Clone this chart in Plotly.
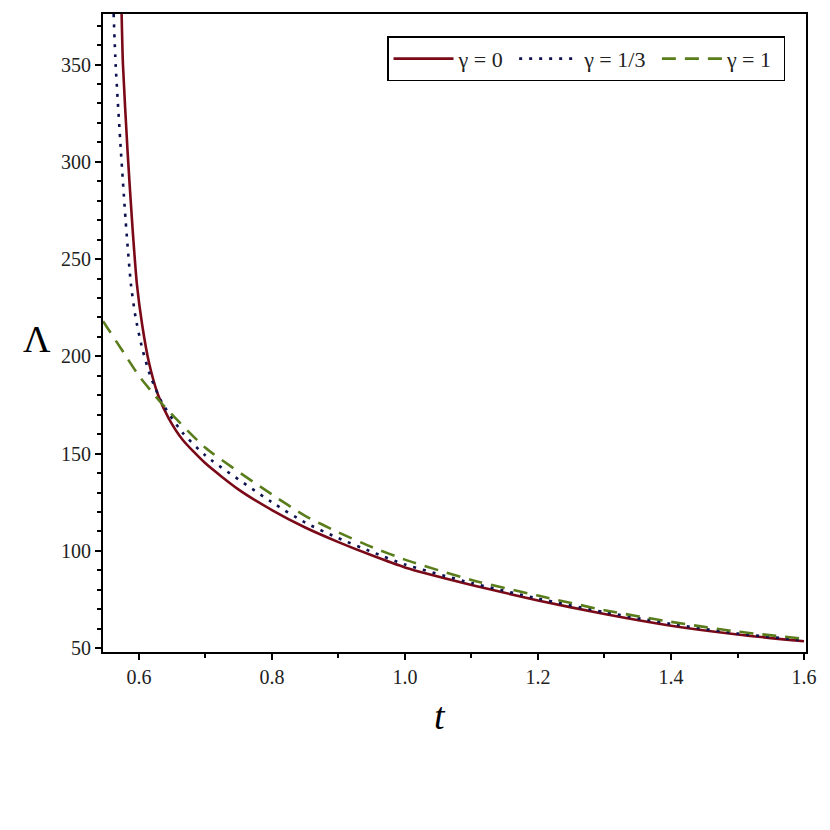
import plotly.graph_objects as go

# gamma = 0 (solid)
t0 = [0.574, 0.576, 0.583, 0.590, 0.597, 0.605, 0.615, 0.629, 0.645, 0.666, 0.70, 0.75, 0.80, 0.85, 0.90,
      0.95, 1.0, 1.1, 1.2, 1.3, 1.4, 1.5, 1.6]
L0 = [376, 350, 305, 268, 237, 216, 197, 180, 168, 157, 145, 131.5, 121, 112, 104.5,
      97.7, 91.5, 82.5, 74.5, 67.5, 61.5, 57, 53.5]

# gamma = 1/3 (dotted)
t13 = [0.562, 0.565, 0.573, 0.580, 0.588, 0.595, 0.605, 0.617, 0.635, 0.665, 0.70, 0.80, 0.85, 0.90,
       0.95, 1.0, 1.1, 1.2, 1.3, 1.4, 1.5, 1.6]
L13 = [376, 350, 305, 270, 237, 220, 204, 190, 176, 161, 149, 125, 114.5, 106.5,
       99.5, 93, 83.5, 75.5, 68.5, 62.5, 57.5, 54]

# gamma = 1 (dashed)
t1 = [0.546, 0.55, 0.575, 0.60, 0.635, 0.70, 0.80, 0.85, 0.90, 0.95, 1.0, 1.1, 1.2, 1.3, 1.4, 1.5, 1.6]
L1 = [218, 216, 203, 190, 175.5, 153, 129, 118, 109.5, 102, 95.5, 85, 77, 69.5, 63.5, 58.5, 54.8]

x_ticks = [0.6, 0.8, 1.0, 1.2, 1.4, 1.6]
x_ticklabels = ["0.6", "0.8", "1.0", "1.2", "1.4", "1.6"]
y_ticks = [50, 100, 150, 200, 250, 300, 350]
names = ["γ = 0", "γ = 1/3", "γ = 1"]

serif = "Liberation Serif, Times New Roman, serif"

fig = go.Figure()
fig.add_trace(go.Scatter(x=t0, y=L0, mode="lines", name=names[0] + "&nbsp;",
                         line=dict(color="#7a0a18", width=2.6, shape="spline", smoothing=0.6)))
fig.add_trace(go.Scatter(x=t13, y=L13, mode="lines", name=names[1] + "&nbsp;",
                         line=dict(color="#0c1150", width=2.6, dash="3px,7px", shape="spline", smoothing=0.6)))
fig.add_trace(go.Scatter(x=t1, y=L1, mode="lines", name=names[2] + "&nbsp;",
                         line=dict(color="#5a7d1c", width=2.6, dash="14px,9px", shape="spline", smoothing=0.6)))

fig.update_layout(
    width=830, height=830,
    margin=dict(l=95, r=32, t=4, b=186),
    paper_bgcolor="white", plot_bgcolor="white",
    showlegend=True,
    legend=dict(orientation="h", x=0.404, y=0.965, xanchor="left", yanchor="top",
                bordercolor="black", borderwidth=1.5, bgcolor="white",
                font=dict(family=serif, size=22, color="#222"),
                itemwidth=60, tracegroupgap=0),
    font=dict(family=serif, size=20, color="#222"),
)
fig.update_xaxes(range=[0.546, 1.603], showgrid=False, zeroline=False,
                 showline=True, linecolor="black", linewidth=2, mirror=True,
                 ticks="outside", ticklen=6, tickcolor="black", tickwidth=1.5,
                 tickvals=x_ticks, ticktext=x_ticklabels,
                 minor=dict(ticks="outside", dtick=0.1, tick0=0.6, ticklen=4, tickcolor="black"),
                 tickfont=dict(family=serif, size=20, color="#222"))
fig.update_yaxes(range=[48, 376], showgrid=False, zeroline=False,
                 showline=True, linecolor="black", linewidth=2, mirror=True,
                 ticks="outside", ticklen=6, tickcolor="black", tickwidth=1.5,
                 tickvals=y_ticks,
                 minor=dict(ticks="outside", dtick=10, tick0=50, ticklen=4, tickcolor="black"),
                 tickfont=dict(family=serif, size=20, color="#222"))

fig.add_annotation(text="Λ", xref="paper", yref="paper", x=-0.094, y=0.49, showarrow=False,
                   font=dict(family=serif, size=38, color="black"), xanchor="center", yanchor="middle")
fig.add_annotation(text="<i>t</i>", xref="paper", yref="paper", x=0.479, y=-0.1, showarrow=False,
                   font=dict(family=serif, size=38, color="black"), xanchor="center", yanchor="middle")

fig.write_html("out.html")
